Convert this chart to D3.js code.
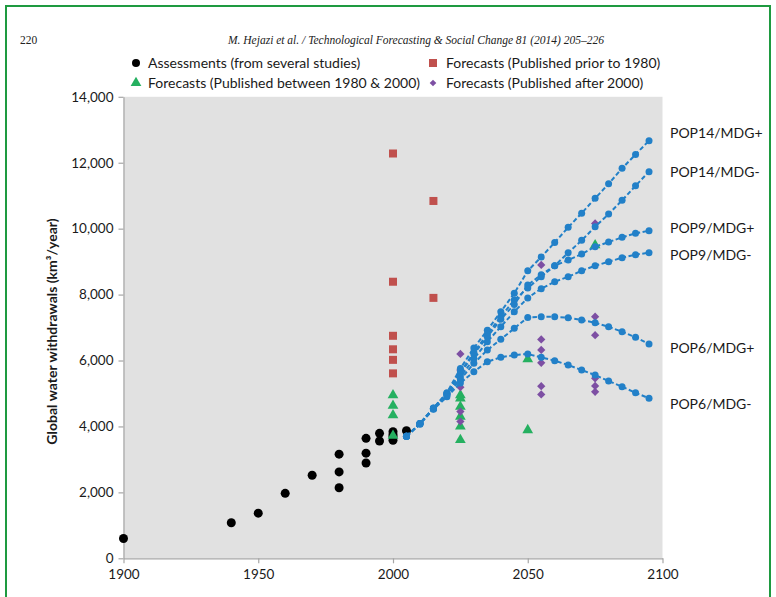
<!DOCTYPE html>
<html><head><meta charset="utf-8">
<script src="https://cdn.jsdelivr.net/npm/d3@7"></script>
<style>body{margin:0;background:#fff;} svg{display:block;}</style>
</head><body>
<svg id="c" width="776" height="597"></svg>
<script>
// ---------- DATA ----------
const assessYears  = [1900,1940,1950,1960,1970,1980,1980,1980,1990,1990,1990,1995,1995,2000,2000,2000,2000,2005];
const assessValues = [600,1080,1370,1970,2520,3160,2620,2140,3640,3190,2890,3790,3560,3840,3750,3690,3580,3870];

const prior1980Years  = [2000,2015,2000,2015,2000,2000,2000,2000];
const prior1980Values = [12280,10840,8390,7900,6750,6340,6020,5610];

const between80_00Years  = [2000,2000,2000,2000,2025,2025,2025,2025,2025,2025,2050,2050,2075];
const between80_00Values = [4950,4630,4340,3720,4950,4850,4600,4300,4000,3590,6040,3890,9500];

const after2000Years  = [2025,2025,2025,2025,2025,2055,2055,2055,2055,2055,2055,2075,2075,2075,2075,2075,2075];
const after2000Values = [6200,5710,5190,4450,4150,8900,6640,6320,5930,5220,4970,10160,7330,6770,5460,5230,5050];

const scenarioYears = [2005,2010,2015,2020,2025,2030,2035,2040,2045,2050,2055,2060,2065,2070,2075,2080,2085,2090,2095];
const pop14Plus  = [3700,4090,4560,5020,5760,6380,6920,7480,8040,8720,9140,9580,10040,10470,10920,11360,11830,12250,12670];
const pop14Minus = [3700,4090,4550,5000,5650,6250,6800,7330,7835,8200,8540,8875,9270,9645,10058,10443,10858,11301,11730];
const pop9Plus   = [3700,4090,4550,5000,5600,6200,6720,7250,7700,8290,8600,8875,9048,9230,9451,9594,9736,9857,9937];
const pop9Minus  = [3700,4080,4540,4980,5500,6050,6570,7025,7480,7900,8180,8390,8541,8723,8875,8996,9118,9209,9270];
const pop6Plus   = [3700,4090,4540,4950,5420,5914,6318,6642,6976,7308,7328,7328,7297,7227,7146,7024,6873,6702,6500];
const pop6Minus  = [3700,4070,4520,4900,5320,5660,5963,6096,6166,6197,6096,5995,5863,5711,5560,5378,5205,5023,4853];
const scenarioNames = ["POP14/MDG+","POP14/MDG-","POP9/MDG+","POP9/MDG-","POP6/MDG+","POP6/MDG-"];

const yTicks = [0,2000,4000,6000,8000,10000,12000,14000];
const xTicks = [1900,1950,2000,2050,2100];
const legendLabels = ["Assessments (from several studies)","Forecasts (Published prior to 1980)",
                      "Forecasts (Published between 1980 & 2000)","Forecasts (Published after 2000)"];
const pageNumber = "220";
const runningHead = "M. Hejazi et al. / Technological Forecasting & Social Change 81 (2014) 205–226";
const yTitle = "Global water withdrawals (km³/year)";

// ---------- DRAW ----------
const svg = d3.select("#c");
const font = "Lato, 'Open Sans', sans-serif";
const C = {black:"#000000", red:"#c0504d", green:"#25b060", purple:"#7d4fa3", blue:"#2280c8",
           bg:"#e1e1e1", axis:"#a6a6a6", text:"#1a1a1a", frame:"#1e9a40"};

// frame
svg.append("rect").attr("x",6).attr("y",6).attr("width",764).attr("height",640)
  .attr("fill","none").attr("stroke",C.frame).attr("stroke-width",2);

// header
svg.append("text").attr("x",20).attr("y",44).text(pageNumber)
  .attr("font-family","'Liberation Serif', serif").attr("font-size",11.5).attr("fill","#222");
svg.append("text").attr("x",416).attr("y",44).attr("text-anchor","middle").text(runningHead)
  .attr("font-family","'Liberation Serif', serif").attr("font-style","italic").attr("font-size",11.5).attr("fill","#222");

const x = d3.scaleLinear().domain([1900,2100]).range([123.5,662.5]);
const y = d3.scaleLinear().domain([0,14000]).range([558.3,96.8]);

svg.append("rect").attr("x",x(1900)).attr("y",y(14000)).attr("width",x(2100)-x(1900)).attr("height",y(0)-y(14000))
  .attr("fill",C.bg);

// axes
const yAxis = svg.append("g").attr("transform",`translate(${x(1900)},0)`)
  .call(d3.axisLeft(y).tickValues(yTicks).tickFormat(d3.format(",")).tickSizeInner(5).tickSizeOuter(0).tickPadding(5));
const xAxis = svg.append("g").attr("transform",`translate(0,${y(0)})`)
  .call(d3.axisBottom(x).tickValues(xTicks).tickFormat(d3.format("d")).tickSizeInner(5).tickSizeOuter(0).tickPadding(6));
[yAxis,xAxis].forEach(g=>{
  g.select(".domain").attr("stroke",C.axis).attr("stroke-width",1.2);
  g.selectAll(".tick line").attr("stroke",C.axis).attr("stroke-width",1.2);
  g.selectAll(".tick text").attr("fill",C.text).attr("font-family",font).attr("font-size",13.5);
});

// y title
svg.append("text").attr("transform",`translate(57,${(y(0)+y(14000))/2+4}) rotate(-90)`)
  .attr("text-anchor","middle").attr("font-family",font).attr("font-weight","bold").attr("font-size",14)
  .attr("fill",C.text).text(yTitle);

const tri = d3.symbol().type(d3.symbolTriangle).size(50);
const dia = d3.symbol().type(d3.symbolSquare).size(34);

function zip(a,b){return a.map((v,i)=>({yr:v,val:b[i]}));}

// assessments
svg.append("g").selectAll("circle").data(zip(assessYears,assessValues)).join("circle")
  .attr("cx",d=>x(d.yr)).attr("cy",d=>y(d.val)).attr("r",4.5).attr("fill",C.black);
// prior to 1980
svg.append("g").selectAll("rect").data(zip(prior1980Years,prior1980Values)).join("rect")
  .attr("x",d=>x(d.yr)-4).attr("y",d=>y(d.val)-4).attr("width",8).attr("height",8).attr("fill",C.red);
// between 1980 & 2000
svg.append("g").selectAll("path").data(zip(between80_00Years,between80_00Values)).join("path")
  .attr("d",tri).attr("transform",d=>`translate(${x(d.yr)},${y(d.val)})`).attr("fill",C.green);
// after 2000
svg.append("g").selectAll("path").data(zip(after2000Years,after2000Values)).join("path")
  .attr("d",dia).attr("transform",d=>`translate(${x(d.yr)},${y(d.val)}) rotate(45)`).attr("fill",C.purple);

// scenarios
const scen = [pop14Plus,pop14Minus,pop9Plus,pop9Minus,pop6Plus,pop6Minus];
const line = d3.line().x(d=>x(d.yr)).y(d=>y(d.val));
const labelDy = [-8,0,-3,2,4,6];
scen.forEach((vals,i)=>{
  const pts = zip(scenarioYears,vals);
  const g = svg.append("g");
  g.append("path").datum(pts).attr("d",line).attr("fill","none").attr("stroke",C.blue)
    .attr("stroke-width",2).attr("stroke-dasharray","4.5,2.5");
  g.selectAll("circle").data(pts).join("circle").attr("cx",d=>x(d.yr)).attr("cy",d=>y(d.val))
    .attr("r",3.5).attr("fill",C.blue);
  const last = pts[pts.length-1];
  svg.append("text").attr("x",670).attr("y",y(last.val)+labelDy[i]+5)
    .attr("font-family",font).attr("font-size",14).attr("fill",C.text).text(scenarioNames[i]);
});

// legend
const lg = svg.append("g").attr("font-family",font).attr("font-size",14).attr("fill",C.text);
const lx=[136,433], ly=[63,83], tx=[148,446];
lg.append("circle").attr("cx",lx[0]).attr("cy",ly[0]).attr("r",4).attr("fill",C.black);
lg.append("rect").attr("x",lx[1]-4).attr("y",ly[0]-4).attr("width",8).attr("height",8).attr("fill",C.red);
lg.append("path").attr("d",tri).attr("transform",`translate(${lx[0]},${ly[1]})`).attr("fill",C.green);
lg.append("path").attr("d",d3.symbol().type(d3.symbolSquare).size(22)).attr("transform",`translate(${lx[1]},${ly[1]}) rotate(45)`).attr("fill",C.purple);
[[0,0],[1,0],[0,1],[1,1]].forEach(([c,r],i)=>{
  lg.append("text").attr("x",tx[c]).attr("y",ly[r]+5).text(legendLabels[r*2+c]);
});
</script>
</body></html>
